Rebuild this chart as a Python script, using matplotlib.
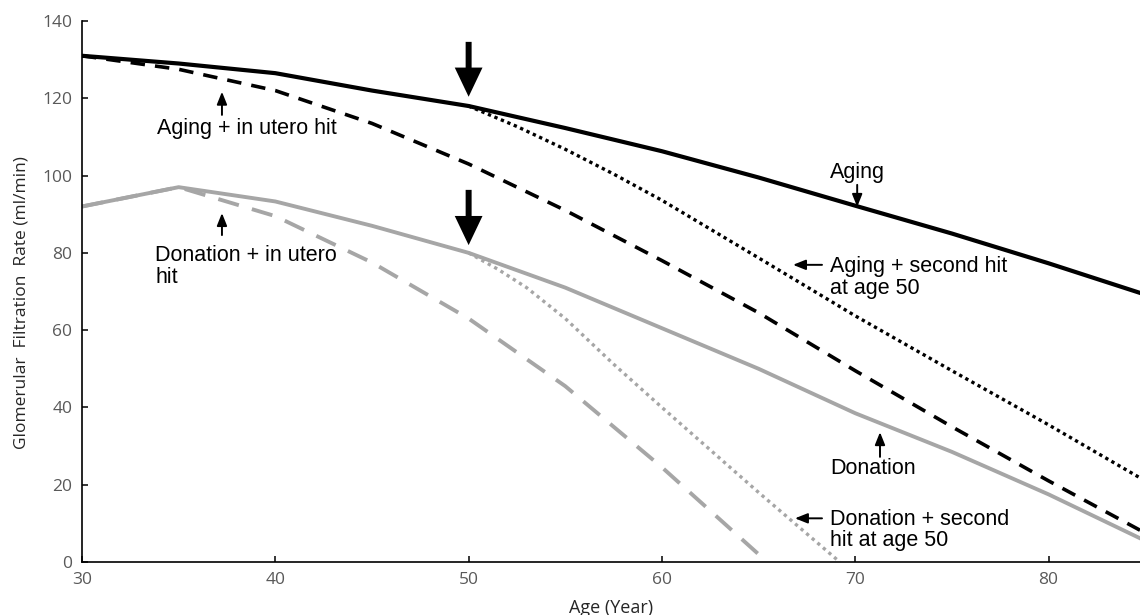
import matplotlib
matplotlib.use("Agg")
import matplotlib.pyplot as plt
from matplotlib.patches import FancyArrowPatch

# ---- data ----
aging_x = [30, 35, 40, 45, 50, 55, 60, 65, 70, 75, 80, 85]
aging_y = [131, 129, 126.5, 122, 118, 112.3, 106.3, 99.5, 92.2, 85, 77.3, 69.2]

aging_utero_x = [30, 35, 40, 45, 50, 55, 60, 65, 70, 75, 80, 85]
aging_utero_y = [131, 127.5, 122, 113.5, 103, 91, 78, 64.5, 49.5, 35, 21, 7.5]

aging_second_x = [50, 52.5, 55, 57.5, 60, 65, 70, 75, 80, 85]
aging_second_y = [118, 112.7, 106.8, 100.4, 93.6, 78.7, 63.7, 49.5, 35.5, 21]

donation_x = [30, 35, 40, 45, 50, 55, 60, 65, 70, 75, 80, 85]
donation_y = [92, 97, 93.3, 87, 80, 71, 60.5, 50, 38.5, 28.5, 17.5, 5.5]

donation_utero_x = [30, 35, 40, 45, 50, 55, 60, 65, 65.5]
donation_utero_y = [92, 97, 89.5, 77.5, 63, 45.5, 24.5, 2, 0]

donation_second_x = [50, 51.5, 53, 55, 57.5, 60, 65, 69.2]
donation_second_y = [80, 75.8, 71, 63, 51.2, 40, 18, 0]

x_ticks = [30, 40, 50, 60, 70, 80]
y_ticks = [0, 20, 40, 60, 80, 100, 120, 140]

GRAY = "#A6A6A6"
TICKCOL = "#595959"
TXT_FONT = "Liberation Sans"
AX_FONT = "Open Sans"

fig = plt.figure(figsize=(11.4, 6.15), dpi=100)
ax = fig.add_axes([82 / 1140, (615 - 562) / 615, 1 - 82 / 1140, (562 - 21) / 615])

ax.plot(aging_x, aging_y, color="black", lw=3.0, solid_capstyle="butt")
ax.plot(aging_utero_x, aging_utero_y, color="black", lw=2.6, linestyle=(0, (4.0, 2.8)))
ax.plot(aging_second_x, aging_second_y, color="black", lw=2.4, linestyle=(0, (1, 1.1)))
ax.plot(donation_x, donation_y, color=GRAY, lw=2.8)
ax.plot(donation_utero_x, donation_utero_y, color=GRAY, lw=2.8, linestyle=(0, (5.5, 3.5)))
ax.plot(donation_second_x, donation_second_y, color=GRAY, lw=2.4, linestyle=(0, (1, 1.2)))

ax.set_xlim(30, 84.73)
ax.set_ylim(0, 140)
ax.set_xticks(x_ticks)
ax.set_yticks(y_ticks)
for s in ["top", "right"]:
    ax.spines[s].set_visible(False)
for s in ["left", "bottom"]:
    ax.spines[s].set_linewidth(1.2)
ax.tick_params(direction="in", length=4, width=1.1, colors="black", labelcolor=TICKCOL,
               labelsize=12.5, pad=7)
for lab in ax.get_xticklabels() + ax.get_yticklabels():
    lab.set_fontfamily(AX_FONT)

ax.set_xlabel("Age (Year)", fontfamily=AX_FONT, fontsize=13, color="#262626", labelpad=8)
fig.text(22 / 1140, 1 - 303 / 615, "Glomerular  Filtration  Rate (ml/min)", rotation=90,
         ha="center", va="center", fontfamily=AX_FONT, fontsize=12.5, color="#262626")

# big arrows at age 50
for y0, y1 in [(134.6, 120.4), (96.3, 82.0)]:
    ar = FancyArrowPatch((50, y0), (50, y1), arrowstyle="simple,head_length=21,head_width=20,tail_width=4.3",
                         mutation_scale=1, color="black", shrinkA=0, shrinkB=0, lw=0)
    ax.add_patch(ar)

def small_arrow(p0, p1):
    ar = FancyArrowPatch(p0, p1, arrowstyle="-|>,head_length=0.75,head_width=0.3",
                         mutation_scale=10, color="black", lw=1.4, shrinkA=0, shrinkB=0)
    ax.add_patch(ar)

tkw = dict(fontfamily=TXT_FONT, fontsize=15.5, color="black")

ax.text(33.88, 112.3, "Aging + in utero hit", ha="left", va="center", **tkw)
small_arrow((37.24, 115.7), (37.24, 121.7))

ax.text(33.78, 76.5, "Donation + in utero\nhit", ha="left", va="center", linespacing=1.05, **tkw)
small_arrow((37.24, 84.6), (37.24, 90.3))

ax.text(70.09, 100.7, "Aging", ha="center", va="center", **tkw)
small_arrow((70.1, 97.6), (70.1, 91.9))

ax.text(68.7, 73.6, "Aging + second hit\nat age 50", ha="left", va="center", linespacing=1.05, **tkw)
small_arrow((68.28, 76.9), (66.78, 76.9))

ax.text(70.92, 24.3, "Donation", ha="center", va="center", **tkw)
small_arrow((71.28, 27.2), (71.28, 33.6))

ax.text(68.7, 8.3, "Donation + second\nhit at age 50", ha="left", va="center", linespacing=1.05, **tkw)
small_arrow((68.28, 11.3), (66.88, 11.3))

fig.savefig("out.png", dpi=100)
